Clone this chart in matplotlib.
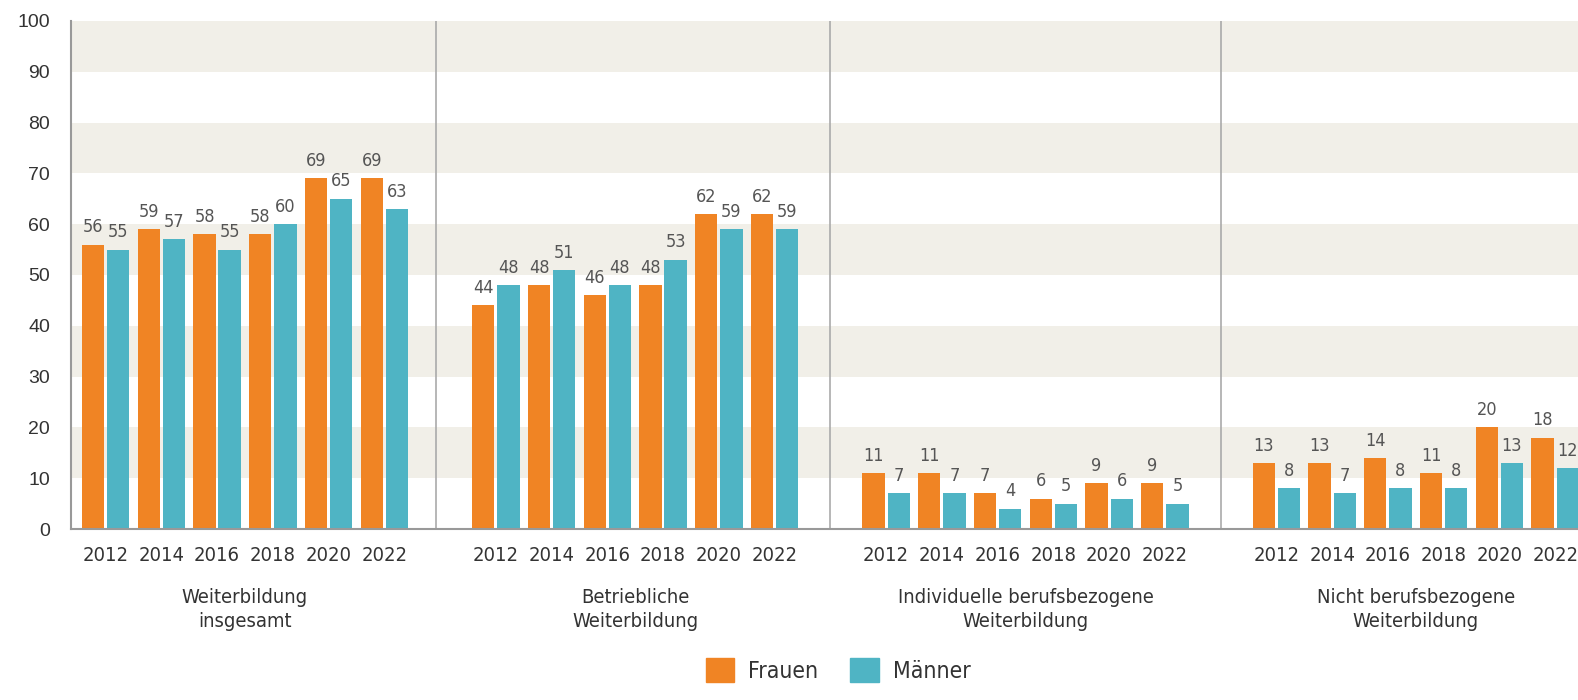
import matplotlib
matplotlib.use('Agg')
import matplotlib.pyplot as plt
from matplotlib.patches import Patch
from matplotlib.transforms import blended_transform_factory
from matplotlib.font_manager import FontProperties
import numpy as np

years = ['2012', '2014', '2016', '2018', '2020', '2022']
categories = ['Weiterbildung\ninsgesamt',
              'Betriebliche\nWeiterbildung',
              'Individuelle berufsbezogene\nWeiterbildung',
              'Nicht berufsbezogene\nWeiterbildung']
frauen = [
    [56, 59, 58, 58, 69, 69],
    [44, 48, 46, 48, 62, 62],
    [11, 11, 7, 6, 9, 9],
    [13, 13, 14, 11, 20, 18],
]
maenner = [
    [55, 57, 55, 60, 65, 63],
    [48, 51, 48, 53, 59, 59],
    [7, 7, 4, 5, 6, 5],
    [8, 7, 8, 8, 13, 12],
]

orange = '#F08424'
teal = '#4FB4C4'
band = '#F1EFE8'


def narrow(size):
    return FontProperties(family='DejaVu Sans', stretch='condensed', size=size)


plt.rcParams['font.family'] = ['Liberation Sans', 'DejaVu Sans']

fig = plt.figure(figsize=(15.78, 7), dpi=100)
ax = fig.add_axes([0.045, 1 - 529 / 700, 0.955, 508 / 700])

# shaded horizontal bands
for lo in range(10, 100, 20):
    ax.axhspan(lo, lo + 10, color=band, zorder=0, lw=0)

w = 0.40
off = 0.225
tick_pos = []
tick_lab = []
trans = blended_transform_factory(ax.transData, ax.transAxes)
for k in range(len(categories)):
    x = np.arange(len(years)) + 7 * k
    ax.bar(x - off, frauen[k], width=w, color=orange, zorder=2)
    ax.bar(x + off, maenner[k], width=w, color=teal, zorder=2)
    for xi, f, m in zip(x, frauen[k], maenner[k]):
        ax.annotate(str(f), (xi - off, f), xytext=(0, 6), textcoords='offset points',
                    ha='center', va='bottom', color='#555555', fontproperties=narrow(13))
        ax.annotate(str(m), (xi + off, m), xytext=(0, 6), textcoords='offset points',
                    ha='center', va='bottom', color='#555555', fontproperties=narrow(13))
    tick_pos.extend(x)
    tick_lab.extend(years)
    ax.text(x.mean(), -0.158, categories[k], transform=trans, ha='center', va='center',
            color='#333333', fontproperties=narrow(14.5), linespacing=1.3)

for sx in [5.92, 13.0, 20.0]:
    ax.axvline(sx, color='#AAAAAA', lw=1.2, zorder=1)

ax.set_xlim(-0.62, 26.41)
ax.set_ylim(0, 100)
ax.set_yticks(range(0, 101, 10))
ax.tick_params(axis='y', length=0, pad=15, labelsize=14, labelcolor='#333333')
ax.set_xticks(tick_pos)
ax.set_xticklabels(tick_lab, color='#333333')
for t in ax.get_xticklabels():
    t.set_fontproperties(narrow(14.5))
ax.tick_params(axis='x', length=0, pad=12)

for s in ['top', 'right']:
    ax.spines[s].set_visible(False)
ax.spines['left'].set_color('#999999')
ax.spines['bottom'].set_color('#999999')
ax.spines['left'].set_linewidth(1.5)
ax.spines['bottom'].set_linewidth(1.5)

handles = [Patch(color=orange, label='Frauen'), Patch(color=teal, label='Männer')]
leg = fig.legend(handles=handles, loc='lower center', bbox_to_anchor=(0.531, -0.005),
                 ncol=2, frameon=False, handlelength=1.25, handleheight=1.25,
                 handletextpad=0.6, columnspacing=1.4, prop=narrow(16.5))
for t in leg.get_texts():
    t.set_color('#333333')

fig.savefig('out.png', dpi=100)
